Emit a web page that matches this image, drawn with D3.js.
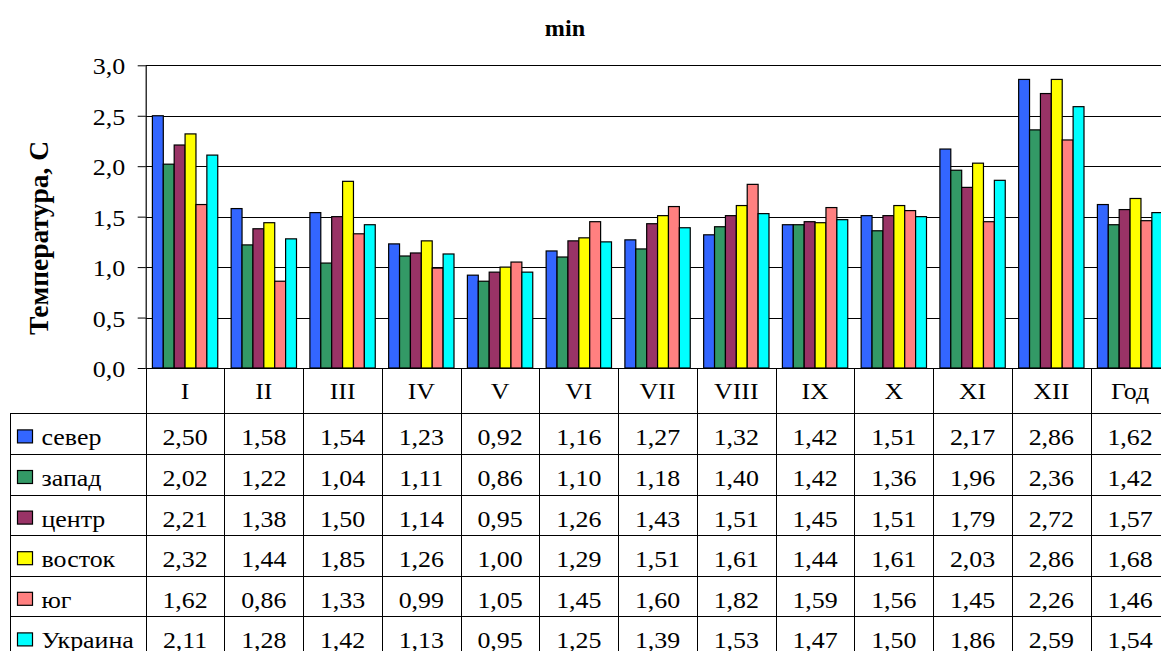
<!DOCTYPE html>
<html>
<head>
<meta charset="utf-8">
<script src="https://cdn.jsdelivr.net/npm/d3@7"></script>
<style>
  html, body { margin: 0; padding: 0; background: #fff; overflow: hidden; }
  svg { display: block; font-family: "Liberation Serif", "Times New Roman", serif; }
</style>
</head>
<body>
<svg id="chart" width="1161" height="651"></svg>
<script>
// Monthly minimum values by region (table under the chart carries the same numbers).
const months = ['I', 'II', 'III', 'IV', 'V', 'VI', 'VII', 'VIII', 'IX', 'X', 'XI', 'XII', 'Год'];
const regions = ['север', 'запад', 'центр', 'восток', 'юг', 'Украина'];
const colors = ['#3366ff', '#339966', '#993366', '#ffff00', '#ff8080', '#00ffff'];

const sever   = [2.50, 1.58, 1.54, 1.23, 0.92, 1.16, 1.27, 1.32, 1.42, 1.51, 2.17, 2.86, 1.62];
const zapad   = [2.02, 1.22, 1.04, 1.11, 0.86, 1.10, 1.18, 1.40, 1.42, 1.36, 1.96, 2.36, 1.42];
const centr   = [2.21, 1.38, 1.50, 1.14, 0.95, 1.26, 1.43, 1.51, 1.45, 1.51, 1.79, 2.72, 1.57];
const vostok  = [2.32, 1.44, 1.85, 1.26, 1.00, 1.29, 1.51, 1.61, 1.44, 1.61, 2.03, 2.86, 1.68];
const yug     = [1.62, 0.86, 1.33, 0.99, 1.05, 1.45, 1.60, 1.82, 1.59, 1.56, 1.45, 2.26, 1.46];
const ukraina = [2.11, 1.28, 1.42, 1.13, 0.95, 1.25, 1.39, 1.53, 1.47, 1.50, 1.86, 2.59, 1.54];

const yTicks = [0, 0.5, 1, 1.5, 2, 2.5, 3];

const seriesValues = [sever, zapad, centr, vostok, yug, ukraina];

// comma decimal separator, as in the original
const ru = d3.formatLocale({ decimal: ',', thousands: ' ', grouping: [3], currency: ['', ''] });
const fmt1 = ru.format('.1f');
const fmt2 = ru.format('.2f');

const svg = d3.select('#chart');

const plotLeft = 145.7, colW = 78.75;
const x = d3.scaleBand().domain(months).range([plotLeft, plotLeft + colW * months.length]).padding(0);
const x1 = d3.scaleBand().domain(regions).range([0, x.bandwidth()]).paddingInner(0).paddingOuter(0.615);
const y = d3.scaleLinear().domain([0, 3]).range([368, 65.3]);
const rows = d3.scaleBand().domain(regions).range([413.3, 413.3 + 40.6 * regions.length]);

const right = x.range()[1];

// the source text is a bit wider than plain Times, so stretch it sideways
function wideText(g, px, py, s, str) {
  return g.append('text')
      .attr('transform', `translate(${px},${py}) scale(${s},1)`)
      .text(str);
}

// gridlines
svg.append('g')
    .attr('stroke', '#000')
    .attr('stroke-width', 1)
  .selectAll('line')
  .data(yTicks)
  .join('line')
    .attr('x1', plotLeft).attr('x2', right)
    .attr('y1', d => Math.round(y(d)) + 0.5).attr('y2', d => Math.round(y(d)) + 0.5);

// bars
const groups = svg.append('g')
  .selectAll('g')
  .data(regions)
  .join('g')
    .attr('fill', (d, i) => colors[i]);

groups.selectAll('rect')
  .data((r, i) => seriesValues[i].map((v, j) => ({ region: r, month: months[j], value: v })))
  .join('rect')
    .attr('x', d => x(d.month) + x1(d.region))
    .attr('y', d => y(d.value))
    .attr('width', x1.bandwidth())
    .attr('height', d => y(0) - y(d.value))
    .attr('stroke', '#000')
    .attr('stroke-width', 1.2);

// y axis
const yAxis = svg.append('g')
    .attr('transform', `translate(${plotLeft},0)`)
    .call(d3.axisLeft(y).tickValues(yTicks).tickSize(8).tickFormat(fmt1));
yAxis.select('.domain').attr('stroke', '#000').attr('stroke-width', 1.2).attr('d', `M0.5,${y(3)}V${y(0)}`);
yAxis.selectAll('.tick line').attr('stroke', '#000');
yAxis.selectAll('.tick text')
    .attr('font-family', '"Liberation Serif", "Times New Roman", serif')
    .attr('font-size', 23)
    .attr('fill', '#000')
    .attr('x', null).attr('dy', null)
    .attr('transform', 'translate(-20.5,8.5) scale(1.13,1)');

// data table
const table = svg.append('g').attr('stroke', '#000').attr('stroke-width', 1);
const tableBottom = rows.range()[1];
table.append('line').attr('x1', plotLeft).attr('x2', right).attr('y1', y(0) + 0.5).attr('y2', y(0) + 0.5);
table.selectAll('line.h')
  .data(regions)
  .join('line')
    .attr('class', 'h')
    .attr('x1', 10).attr('x2', right)
    .attr('y1', d => Math.round(rows(d)) + 0.5).attr('y2', d => Math.round(rows(d)) + 0.5);
table.selectAll('line.v')
  .data(months)
  .join('line')
    .attr('class', 'v')
    .attr('x1', d => Math.round(x(d)) + 0.5).attr('x2', d => Math.round(x(d)) + 0.5)
    .attr('y1', y(0)).attr('y2', tableBottom);
table.append('line').attr('x1', 10.5).attr('x2', 10.5).attr('y1', rows(regions[0])).attr('y2', tableBottom);

const textG = svg.append('g').attr('font-size', 24).attr('fill', '#000');
const cellG = textG.append('g').attr('text-anchor', 'middle');

months.forEach(m => wideText(cellG, x(m) + x.bandwidth() / 2, 399, 1.08, m));

regions.forEach((r, i) => {
  const base = rows(r) + rows.bandwidth() - 8.5;
  textG.append('rect')
      .attr('x', 17.5).attr('y', base - 15.5)
      .attr('width', 15).attr('height', 13)
      .attr('fill', colors[i]).attr('stroke', '#000').attr('stroke-width', 1.2);
  wideText(textG, 41.5, base, 1.08, r);
  seriesValues[i].forEach((v, j) => wideText(cellG, x(months[j]) + x.bandwidth() / 2, base, 1.08, fmt2(v)));
});

// titles
svg.append('text')
    .attr('transform', 'translate(565,36) scale(1.05,1)')
    .attr('text-anchor', 'middle')
    .attr('font-size', 23).attr('font-weight', 'bold')
    .text('min');

svg.append('text')
    .attr('transform', 'translate(48,238) rotate(-90)')
    .attr('text-anchor', 'middle')
    .attr('font-size', 27.5).attr('font-weight', 'bold')
    .text('Температура, С');
</script>
</body>
</html>
